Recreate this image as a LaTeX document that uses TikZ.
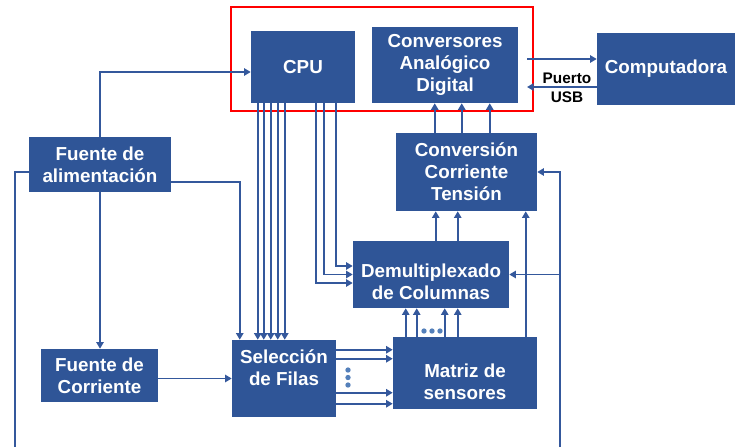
\documentclass[tikz,border=0pt]{standalone}
\usepackage{fontspec}
\setmainfont{Liberation Sans}
\usetikzlibrary{calc,arrows.meta}
\definecolor{bx}{RGB}{47,85,151}
\definecolor{ln}{RGB}{52,88,156}
\definecolor{dotc}{RGB}{84,128,186}
\begin{document}
\begin{tikzpicture}[x=0.75pt,y=-0.75pt,
  box/.style={fill=bx, inner sep=0pt, text=white, align=center,
    font=\bfseries\fontsize{14.1}{16.5}\selectfont},
  lbl/.style={inner sep=0pt, text=white, align=center,
    font=\bfseries\fontsize{14.1}{16.5}\selectfont},
  arr/.style={draw=ln, line width=1.4pt, -{Triangle[length=5pt,width=5.5pt]}},
  wire/.style={draw=ln, line width=1.4pt},
  dotm/.style={circle, fill=dotc, inner sep=0pt, minimum size=4pt}]
\useasboundingbox (0,0) rectangle (739,447);

% red frame
\node[draw=red, line width=1.5pt, minimum width=226.5pt, minimum height=78pt, inner sep=0pt] (frame) at (382,59) {};

% boxes
\node[box, minimum width=78pt, minimum height=54pt] (cpu) at (303,67) {CPU};
\node[box, minimum width=109.5pt, minimum height=57pt] (adc) at (445,65) {Conversores\\Analógico\\Digital};
\node[box, minimum width=103.5pt, minimum height=54pt] (comp) at (666,69) {Computadora};
\node[box, minimum width=106.5pt, minimum height=41.25pt] (fa) at (100,164.5) {Fuente de\\alimentación};
\node[box, minimum width=87.75pt, minimum height=39.75pt] (fc) at (99.5,375.5) {Fuente de\\Corriente};
\node[box, minimum width=78pt, minimum height=57.75pt] (sel) at (284,378.5) {};
\node[lbl] (selt) at (284,368) {Selección\\de Filas};
\node[box, minimum width=105.75pt, minimum height=58.5pt] (ccv) at (466.5,172) {Conversión\\Corriente\\Tensión};
\node[box, minimum width=117pt, minimum height=50.25pt] (dmx) at (431,274.5) {};
\node[lbl] (dmxt) at (431,282) {Demultiplexado\\de Columnas};
\node[box, minimum width=108pt, minimum height=54pt] (mat) at (465,373) {};
\node[lbl] (matt) at (465,382) {Matriz de\\sensores};

% USB link
\coordinate (u1) at (527,59);
\draw[arr] (u1) -- (u1 -| comp.west);
\draw[arr] ($(comp.west)+(0,18)$) coordinate (u2) -- (u2 -| u1);
\node[inner sep=0pt, align=center, font=\bfseries\fontsize{11.5}{14}\selectfont] (usb) at (567,87.5) {Puerto\\USB};

% power supply
\draw[arr] (fa.north) |- ($(cpu.west)+(0,5)$);
\draw[arr] ($(fa.east)+(0,17.5)$) -| ($(sel.north west)+(8,0)$);
\coordinate (lb) at (15,447);
\draw[wire] ($(fa.west)+(0,7.5)$) -| (lb);
\draw[arr] (fa.south) -- (fa.south |- fc.north);
\draw[arr] (fc.east |- sel.west) -- (sel.west);

% CPU to row selection
\foreach \dx in {7,13,20,27,34}
  \draw[arr] (cpu.south west) ++(\dx,0) coordinate (s) -- (s |- sel.north);
% CPU to demux
\draw[arr] (cpu.south west) ++(85,0) coordinate (s) |- ($(dmx.west)+(0,-8.5)$);
\draw[arr] (cpu.south west) ++(73,0) coordinate (s) |- (dmx.west);
\draw[arr] (cpu.south west) ++(65,0) coordinate (s) |- ($(dmx.west)+(0,8.5)$);

% conversion to ADC
\foreach \dx in {39,66,94}
  \draw[arr] (ccv.north west) ++(\dx,0) coordinate (s) -- (s |- adc.south);
% demux to conversion
\foreach \dx in {83,105}
  \draw[arr] (dmx.north west) ++(\dx,0) coordinate (s) -- (s |- ccv.south);
% matrix to conversion
\draw[arr] (mat.north west) ++(133,0) coordinate (s) -- (s |- ccv.south);
% right feed
\coordinate (rb) at (560,447);
\draw[arr] (rb) |- (ccv.east);
\draw[arr] (rb |- dmx.east) -- (dmx.east);

% matrix to demux
\foreach \dx in {13,24,52,65}
  \draw[arr] (mat.north west) ++(\dx,0) coordinate (s) -- (s |- dmx.south);
\node[dotm] (h1) at (424,331) {};
\node[dotm] (h2) at (432,331) {};
\node[dotm] (h3) at (440,331) {};

% row selection to matrix
\foreach \dy in {10,19,53,64}
  \draw[arr] (sel.north east) ++(0,\dy) coordinate (s) -- (s -| mat.west);
\node[dotm] (v1) at (348,370) {};
\node[dotm] (v2) at (348,377.5) {};
\node[dotm] (v3) at (348,385) {};
\end{tikzpicture}
\end{document}
